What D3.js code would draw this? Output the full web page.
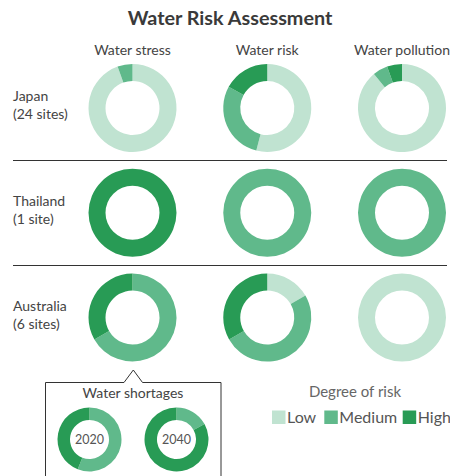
<!DOCTYPE html>
<html><head><meta charset="utf-8">
<script src="https://cdn.jsdelivr.net/npm/d3@7"></script>
<style>
html,body{margin:0;padding:0;background:#fff;}
svg{display:block;font-family:"Lato","Noto Sans",sans-serif;}
</style></head>
<body><svg id="c" width="450" height="476"></svg>
<script>
// ---- data ----
const title = "Water Risk Assessment";
const columns = ["Water stress", "Water risk", "Water pollution"];
const regions = ["Japan", "Thailand", "Australia"];
const regionSites = ["(24 sites)", "(1 site)", "(6 sites)"];
const levels = ["Low", "Medium", "High"];
// shares of sites [Low, Medium, High] (percent)
const japanValues = [[94.5, 5.5, 0], [54, 29, 17], [89, 5.5, 5.5]];
const thailandValues = [[0, 0, 100], [0, 100, 0], [0, 100, 0]];
const australiaValues = [[0, 66.7, 33.3], [16.7, 50, 33.3], [100, 0, 0]];
const shortageYears = ["2020", "2040"];
const shortageValues = [[0, 56, 44], [0, 17, 83]];
const colors = ["#c0e3d1", "#60b98b", "#289b55"];

const svg = d3.select("#c");
const color = d3.scaleOrdinal().domain(levels).range(colors);
const x = d3.scalePoint().domain(columns).range([132.5, 402]);
const y = d3.scalePoint().domain(regions).range([108, 317.5]);
const pie = d3.pie().sort(null).value(d => d);
const arc = d3.arc().innerRadius(27).outerRadius(44);
const allValues = [japanValues, thailandValues, australiaValues];

svg.append("text").attr("x", 230).attr("y", 24.5).attr("text-anchor", "middle")
  .attr("font-size", 19.8).attr("font-weight", "bold").attr("fill", "#3a3a3a").text(title);

svg.selectAll(".colh").data(columns).join("text")
  .attr("x", d => x(d)).attr("y", 55).attr("text-anchor", "middle")
  .attr("font-size", 14).attr("fill", "#444").text(d => d);

// separators
const seps = [0.5, 1.5];
const step = y.step();
svg.selectAll(".sep").data(seps).join("line")
  .attr("x1", 13).attr("x2", 447)
  .attr("y1", d => Math.round(y.range()[0] + d * step) + 0.5)
  .attr("y2", d => Math.round(y.range()[0] + d * step) + 0.5)
  .attr("stroke", "#333").attr("stroke-width", 1);

regions.forEach((r, ri) => {
  const g = svg.append("g");
  g.append("text").attr("x", 13).attr("y", y(r) - 7).attr("font-size", 14).attr("fill", "#444").text(r);
  g.append("text").attr("x", 13).attr("y", y(r) + 11).attr("font-size", 14).attr("fill", "#444").text(regionSites[ri]);
  columns.forEach((c, ci) => {
    const dg = svg.append("g").attr("transform", `translate(${x(c)},${y(r)})`);
    dg.selectAll("path").data(pie(allValues[ri][ci]).filter(a => a.value > 0)).join("path")
      .attr("d", arc).attr("fill", d => color(levels[d.index]));
  });
});

// water shortage callout
const bx = d3.scalePoint().domain(shortageYears).range([89.5, 176.5]);
const boxPath = d3.path();
boxPath.moveTo(45.5, 480); boxPath.lineTo(45.5, 382.5); boxPath.lineTo(124, 382.5);
boxPath.lineTo(133.3, 370); boxPath.lineTo(142.5, 382.5); boxPath.lineTo(221, 382.5); boxPath.lineTo(221, 480);
svg.append("path").attr("d", boxPath.toString()).attr("fill", "#fff").attr("stroke", "#333").attr("stroke-width", 1);
svg.append("text").attr("x", 133).attr("y", 398).attr("text-anchor", "middle")
  .attr("font-size", 14).attr("fill", "#444").text("Water shortages");
const arc2 = d3.arc().innerRadius(19.5).outerRadius(32);
shortageYears.forEach((yr, i) => {
  const g = svg.append("g").attr("transform", `translate(${bx(yr)},439.5)`);
  g.selectAll("path").data(pie(shortageValues[i]).filter(a => a.value > 0)).join("path")
    .attr("d", arc2).attr("fill", d => color(levels[d.index]));
  g.append("text").attr("y", 4.8).attr("text-anchor", "middle").attr("font-size", 12.5)
    .attr("fill", "#555").text(yr);
});

// legend
svg.append("text").attr("x", 355).attr("y", 397).attr("text-anchor", "middle")
  .attr("font-size", 15).attr("fill", "#666").text("Degree of risk");
const legX = [272, 324.3, 402.7];
const lg = svg.selectAll(".leg").data(levels).join("g")
  .attr("transform", (d, i) => `translate(${legX[i]},410.5)`);
lg.append("rect").attr("width", 13.5).attr("height", 13.5).attr("fill", d => color(d));
lg.append("text").attr("x", 15).attr("y", 12).attr("font-size", 16).attr("fill", "#555").text(d => d);
</script></body></html>
